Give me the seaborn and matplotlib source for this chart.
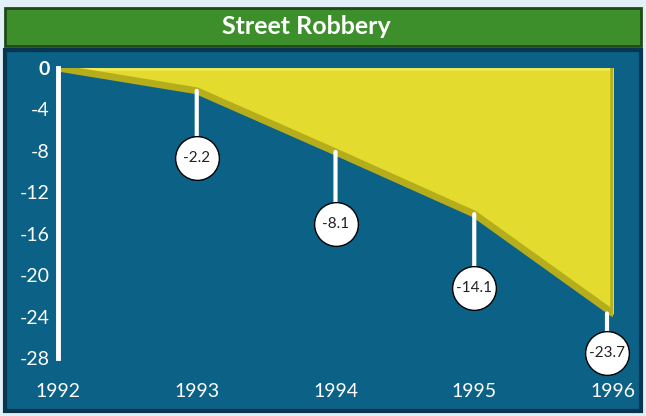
import matplotlib
matplotlib.use("Agg")
import matplotlib.pyplot as plt
from matplotlib.patches import Rectangle
from matplotlib.transforms import offset_copy
import seaborn as sns
import pandas as pd

# data
years = [1992, 1993, 1994, 1995, 1996]
change = [0.0, -2.2, -8.1, -14.1, -23.7]
labels = ["", "-2.2", "-8.1", "-14.1", "-23.7"]
yticks = [0, -4, -8, -12, -16, -20, -24, -28]

# label bubble offsets below the line (pixels)
drop_px = [0, 67, 72, 74, 40]
shift_px = [0, 0, 0, 0, -6]

sns.set_style("white")
plt.rcParams["font.family"] = ["Lato", "DejaVu Sans"]

W, H = 646, 416
fig = plt.figure(figsize=(W / 100, H / 100), dpi=100)
fig.patch.set_facecolor("#e2f1f8")

def fr(x0, y0, x1, y1):
    return (x0 / W, 1 - y1 / H, (x1 - x0) / W, (y1 - y0) / H)

# panels
l, b, w, h = fr(5, 50, 641, 411)
fig.patches.append(Rectangle((l, b), w, h, transform=fig.transFigure,
                             fc="#0b6186", ec="#0a3550", lw=3, zorder=0))
l, b, w, h = fr(5, 8, 641, 46)
fig.patches.append(Rectangle((l, b), w, h, transform=fig.transFigure,
                             fc="#3d8f2b", ec="#1f4a16", lw=2, zorder=0))
fig.text(0.475, 1 - 27 / H, "Street Robbery", color="white", fontsize=18,
         fontweight="bold", ha="center", va="center")

ax = fig.add_axes(fr(58, 68, 613, 358))
ax.set_zorder(3)
ax.set_facecolor("none")

df = pd.DataFrame({"year": years, "change": change})
ax.fill_between(df["year"], df["change"], 0, color="#e3dc2e", zorder=2)
ax.axhline(0, color="#f0ea55", lw=4, zorder=2)
sns.lineplot(data=df, x="year", y="change", ax=ax, color="#b5ad1c", lw=5,
             zorder=3)
ax.plot([1996, 1996], [0, -23.7], color="#b8b01c", lw=4, zorder=3)

for x, y, t, d, s in zip(years, change, labels, drop_px, shift_px):
    if not t:
        continue
    dp = d * 0.72
    xs = x + s / 138.75
    ax.annotate("", xy=(xs, y), xytext=(0, -dp), textcoords="offset points",
                arrowprops=dict(arrowstyle="-", color="white", lw=3,
                                shrinkA=0, shrinkB=0), zorder=4)
    tr = offset_copy(ax.transData, fig=fig, x=0, y=-dp, units="points")
    ax.scatter([xs], [y], s=31.5 ** 2, color="white", edgecolor="black",
               linewidth=1, transform=tr, zorder=5, clip_on=False)
    ax.text(xs, y, t, transform=tr, ha="center", va="center", fontsize=11,
            color="#222222", zorder=6, clip_on=False)

ax.set_xlim(1992, 1996)
ax.set_ylim(-28, 0)
ax.set_xticks(years)
ax.set_xticklabels([str(y) for y in years])
ax.set_yticks(yticks)
ax.set_yticklabels([str(v) for v in yticks])
ax.tick_params(axis="both", length=0, colors="white", labelsize=14)
ax.tick_params(axis="x", pad=18)
ax.tick_params(axis="y", pad=6)
ax.get_yticklabels()[0].set_fontweight("bold")
ax.set_xlabel("")
ax.set_ylabel("")
for sp_ in ["top", "right", "bottom"]:
    ax.spines[sp_].set_visible(False)
ax.spines["left"].set_color("white")
ax.spines["left"].set_linewidth(3.5)
ax.spines["left"].set_zorder(6)

fig.savefig("out.png", dpi=100, facecolor=fig.get_facecolor())
